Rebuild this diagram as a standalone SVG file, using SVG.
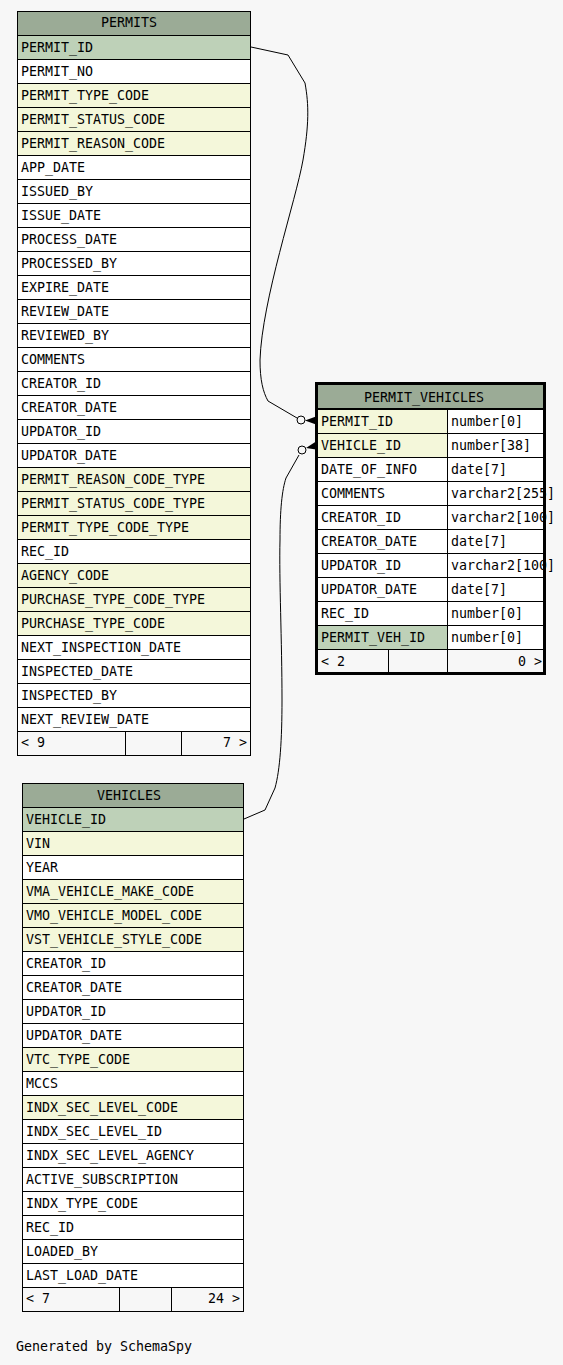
<svg xmlns="http://www.w3.org/2000/svg" width="563" height="1365" viewBox="0 0 563 1365">
<style>
rect{stroke:#000;stroke-width:1}
rect.bg{stroke:none;fill:#f7f7f7}
.hd{fill:#9bab96}.pk{fill:#bed1b8}.ix{fill:#f4f7da}.n{fill:#ffffff}.ft{fill:#f7f7f7}
text{font-family:"DejaVu Sans Mono","Liberation Mono",monospace;font-size:13.3px;fill:#000}
.c{text-anchor:middle}.e{text-anchor:end}
.ln{fill:none;stroke:#000;stroke-width:1}
</style>
<rect class="bg" x="0" y="0" width="563" height="1365"/>

<g id="connectors">
<path class="ln" d="M251,47 L288,55 L305,83 C309,105 309,125 303,160 C296,200 262,300 260,360 C260,380 263,392 268,401 L297,418"/>
<circle cx="301" cy="420" r="4" fill="#f7f7f7" stroke="#000"/>
<polygon points="305,420.5 316,416.5 316,424.5" fill="#000"/>
<path class="ln" d="M244,819 L265,810 L275,788 C280,770 282,740 282,700 C282,640 279,580 280,540 C280,510 282,490 286,478 L299,455"/>
<circle cx="302" cy="450" r="4" fill="#f7f7f7" stroke="#000"/>
<polygon points="306,448 316,441.5 316,449.5" fill="#000"/>
</g>

<g id="PERMITS">
<rect class="hd" x="17.5" y="11.5" width="233" height="24"/><text class="c" x="129" y="27">PERMITS</text>
<rect class="pk" x="17.5" y="35.5" width="233" height="24"/><text x="21" y="52">PERMIT_ID</text>
<rect class="n" x="17.5" y="59.5" width="233" height="24"/><text x="21" y="76">PERMIT_NO</text>
<rect class="ix" x="17.5" y="83.5" width="233" height="24"/><text x="21" y="100">PERMIT_TYPE_CODE</text>
<rect class="ix" x="17.5" y="107.5" width="233" height="24"/><text x="21" y="124">PERMIT_STATUS_CODE</text>
<rect class="ix" x="17.5" y="131.5" width="233" height="24"/><text x="21" y="148">PERMIT_REASON_CODE</text>
<rect class="n" x="17.5" y="155.5" width="233" height="24"/><text x="21" y="172">APP_DATE</text>
<rect class="n" x="17.5" y="179.5" width="233" height="24"/><text x="21" y="196">ISSUED_BY</text>
<rect class="n" x="17.5" y="203.5" width="233" height="24"/><text x="21" y="220">ISSUE_DATE</text>
<rect class="n" x="17.5" y="227.5" width="233" height="24"/><text x="21" y="244">PROCESS_DATE</text>
<rect class="n" x="17.5" y="251.5" width="233" height="24"/><text x="21" y="268">PROCESSED_BY</text>
<rect class="n" x="17.5" y="275.5" width="233" height="24"/><text x="21" y="292">EXPIRE_DATE</text>
<rect class="n" x="17.5" y="299.5" width="233" height="24"/><text x="21" y="316">REVIEW_DATE</text>
<rect class="n" x="17.5" y="323.5" width="233" height="24"/><text x="21" y="340">REVIEWED_BY</text>
<rect class="n" x="17.5" y="347.5" width="233" height="24"/><text x="21" y="364">COMMENTS</text>
<rect class="n" x="17.5" y="371.5" width="233" height="24"/><text x="21" y="388">CREATOR_ID</text>
<rect class="n" x="17.5" y="395.5" width="233" height="24"/><text x="21" y="412">CREATOR_DATE</text>
<rect class="n" x="17.5" y="419.5" width="233" height="24"/><text x="21" y="436">UPDATOR_ID</text>
<rect class="n" x="17.5" y="443.5" width="233" height="24"/><text x="21" y="460">UPDATOR_DATE</text>
<rect class="ix" x="17.5" y="467.5" width="233" height="24"/><text x="21" y="484">PERMIT_REASON_CODE_TYPE</text>
<rect class="ix" x="17.5" y="491.5" width="233" height="24"/><text x="21" y="508">PERMIT_STATUS_CODE_TYPE</text>
<rect class="ix" x="17.5" y="515.5" width="233" height="24"/><text x="21" y="532">PERMIT_TYPE_CODE_TYPE</text>
<rect class="n" x="17.5" y="539.5" width="233" height="24"/><text x="21" y="556">REC_ID</text>
<rect class="ix" x="17.5" y="563.5" width="233" height="24"/><text x="21" y="580">AGENCY_CODE</text>
<rect class="ix" x="17.5" y="587.5" width="233" height="24"/><text x="21" y="604">PURCHASE_TYPE_CODE_TYPE</text>
<rect class="ix" x="17.5" y="611.5" width="233" height="24"/><text x="21" y="628">PURCHASE_TYPE_CODE</text>
<rect class="n" x="17.5" y="635.5" width="233" height="24"/><text x="21" y="652">NEXT_INSPECTION_DATE</text>
<rect class="n" x="17.5" y="659.5" width="233" height="24"/><text x="21" y="676">INSPECTED_DATE</text>
<rect class="n" x="17.5" y="683.5" width="233" height="24"/><text x="21" y="700">INSPECTED_BY</text>
<rect class="n" x="17.5" y="707.5" width="233" height="24"/><text x="21" y="724">NEXT_REVIEW_DATE</text>
<rect class="ft" x="17.5" y="731.5" width="108" height="24"/>
<rect class="ft" x="125.5" y="731.5" width="56" height="24"/>
<rect class="ft" x="181.5" y="731.5" width="69" height="24"/>
<text x="21" y="747">&lt; 9</text><text class="e" x="247" y="747">7 &gt;</text>
</g>

<g id="PERMIT_VEHICLES">
<rect class="hd" x="317.5" y="384.5" width="226" height="24"/><text class="c" x="424" y="402">PERMIT_VEHICLES</text>
<rect class="ix" x="317.5" y="409.5" width="130" height="24"/><rect class="n" x="447.5" y="409.5" width="96" height="24"/>
<text x="321" y="426">PERMIT_ID</text><text x="451" y="426">number[0]</text>
<rect class="ix" x="317.5" y="433.5" width="130" height="24"/><rect class="n" x="447.5" y="433.5" width="96" height="24"/>
<text x="321" y="450">VEHICLE_ID</text><text x="451" y="450">number[38]</text>
<rect class="n" x="317.5" y="457.5" width="130" height="24"/><rect class="n" x="447.5" y="457.5" width="96" height="24"/>
<text x="321" y="474">DATE_OF_INFO</text><text x="451" y="474">date[7]</text>
<rect class="n" x="317.5" y="481.5" width="130" height="24"/><rect class="n" x="447.5" y="481.5" width="96" height="24"/>
<text x="321" y="498">COMMENTS</text><text x="451" y="498">varchar2[255]</text>
<rect class="n" x="317.5" y="505.5" width="130" height="24"/><rect class="n" x="447.5" y="505.5" width="96" height="24"/>
<text x="321" y="522">CREATOR_ID</text><text x="451" y="522">varchar2[100]</text>
<rect class="n" x="317.5" y="529.5" width="130" height="24"/><rect class="n" x="447.5" y="529.5" width="96" height="24"/>
<text x="321" y="546">CREATOR_DATE</text><text x="451" y="546">date[7]</text>
<rect class="n" x="317.5" y="553.5" width="130" height="24"/><rect class="n" x="447.5" y="553.5" width="96" height="24"/>
<text x="321" y="570">UPDATOR_ID</text><text x="451" y="570">varchar2[100]</text>
<rect class="n" x="317.5" y="577.5" width="130" height="24"/><rect class="n" x="447.5" y="577.5" width="96" height="24"/>
<text x="321" y="594">UPDATOR_DATE</text><text x="451" y="594">date[7]</text>
<rect class="n" x="317.5" y="601.5" width="130" height="24"/><rect class="n" x="447.5" y="601.5" width="96" height="24"/>
<text x="321" y="618">REC_ID</text><text x="451" y="618">number[0]</text>
<rect class="pk" x="317.5" y="625.5" width="130" height="24"/><rect class="n" x="447.5" y="625.5" width="96" height="24"/>
<text x="321" y="642">PERMIT_VEH_ID</text><text x="451" y="642">number[0]</text>
<rect class="ft" x="317.5" y="649.5" width="71" height="24"/>
<rect class="ft" x="388.5" y="649.5" width="59" height="24"/>
<rect class="ft" x="447.5" y="649.5" width="96" height="24"/>
<text x="321" y="666">&lt; 2</text><text class="e" x="542" y="666">0 &gt;</text>
<rect x="316.5" y="383.5" width="228" height="290" fill="none" style="stroke-width:3"/>
</g>

<g id="VEHICLES">
<rect class="hd" x="22.5" y="783.5" width="221" height="24"/><text class="c" x="129" y="799.5">VEHICLES</text>
<rect class="pk" x="22.5" y="807.5" width="221" height="24"/><text x="26" y="824">VEHICLE_ID</text>
<rect class="ix" x="22.5" y="831.5" width="221" height="24"/><text x="26" y="848">VIN</text>
<rect class="n" x="22.5" y="855.5" width="221" height="24"/><text x="26" y="872">YEAR</text>
<rect class="ix" x="22.5" y="879.5" width="221" height="24"/><text x="26" y="896">VMA_VEHICLE_MAKE_CODE</text>
<rect class="ix" x="22.5" y="903.5" width="221" height="24"/><text x="26" y="920">VMO_VEHICLE_MODEL_CODE</text>
<rect class="ix" x="22.5" y="927.5" width="221" height="24"/><text x="26" y="944">VST_VEHICLE_STYLE_CODE</text>
<rect class="n" x="22.5" y="951.5" width="221" height="24"/><text x="26" y="968">CREATOR_ID</text>
<rect class="n" x="22.5" y="975.5" width="221" height="24"/><text x="26" y="992">CREATOR_DATE</text>
<rect class="n" x="22.5" y="999.5" width="221" height="24"/><text x="26" y="1016">UPDATOR_ID</text>
<rect class="n" x="22.5" y="1023.5" width="221" height="24"/><text x="26" y="1040">UPDATOR_DATE</text>
<rect class="ix" x="22.5" y="1047.5" width="221" height="24"/><text x="26" y="1064">VTC_TYPE_CODE</text>
<rect class="n" x="22.5" y="1071.5" width="221" height="24"/><text x="26" y="1088">MCCS</text>
<rect class="ix" x="22.5" y="1095.5" width="221" height="24"/><text x="26" y="1112">INDX_SEC_LEVEL_CODE</text>
<rect class="n" x="22.5" y="1119.5" width="221" height="24"/><text x="26" y="1136">INDX_SEC_LEVEL_ID</text>
<rect class="n" x="22.5" y="1143.5" width="221" height="24"/><text x="26" y="1160">INDX_SEC_LEVEL_AGENCY</text>
<rect class="n" x="22.5" y="1167.5" width="221" height="24"/><text x="26" y="1184">ACTIVE_SUBSCRIPTION</text>
<rect class="n" x="22.5" y="1191.5" width="221" height="24"/><text x="26" y="1208">INDX_TYPE_CODE</text>
<rect class="n" x="22.5" y="1215.5" width="221" height="24"/><text x="26" y="1232">REC_ID</text>
<rect class="n" x="22.5" y="1239.5" width="221" height="24"/><text x="26" y="1256">LOADED_BY</text>
<rect class="n" x="22.5" y="1263.5" width="221" height="24"/><text x="26" y="1280">LAST_LOAD_DATE</text>
<rect class="ft" x="22.5" y="1287.5" width="97" height="24"/>
<rect class="ft" x="119.5" y="1287.5" width="52" height="24"/>
<rect class="ft" x="171.5" y="1287.5" width="72" height="24"/>
<text x="26" y="1303">&lt; 7</text><text class="e" x="240" y="1303">24 &gt;</text>
</g>

<text id="footer" x="16" y="1351">Generated by SchemaSpy</text>
</svg>
